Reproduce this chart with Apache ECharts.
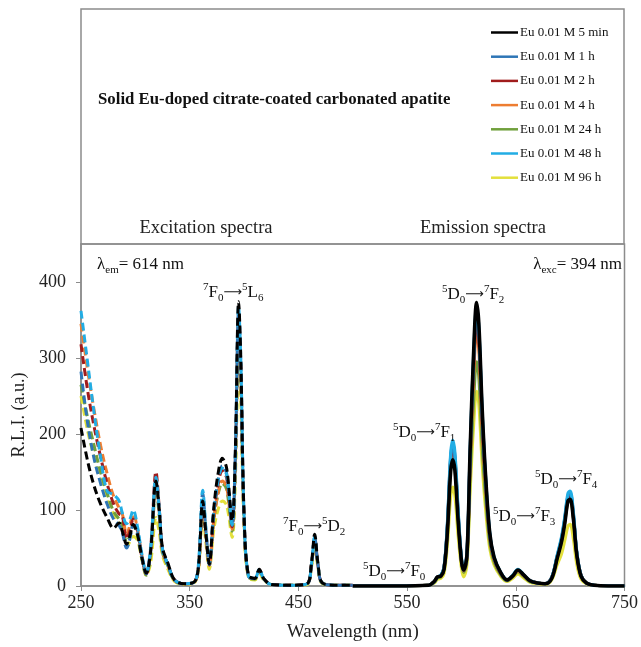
<!DOCTYPE html>
<html>
<head>
<meta charset="utf-8">
<script src="https://cdn.jsdelivr.net/npm/echarts@6/dist/echarts.min.js"></script>
<style>
  html, body { margin: 0; padding: 0; background: #fff; }
  #chart { width: 641px; height: 647px; }
</style>
</head>
<body>
<div id="chart"></div>
<script>
// sample names (legend order)
const sampleNames = ['Eu 0.01 M 5 min', 'Eu 0.01 M 1 h', 'Eu 0.01 M 2 h', 'Eu 0.01 M 4 h',
  'Eu 0.01 M 24 h', 'Eu 0.01 M 48 h', 'Eu 0.01 M 96 h'];

// excitation spectra (lambda em = 614 nm), dashed
const exWl = [250, 256, 262, 268, 274, 280, 285, 288, 292, 295, 298, 302, 306, 310, 314, 319, 322, 325, 330, 336,
  345, 354, 358, 362, 365, 368, 372, 376, 380, 384, 389, 392, 395, 397, 400, 404, 410, 414, 418, 425,
  445, 458, 462, 465, 468, 472, 485, 500];
const ex5min = [208, 165, 132, 108, 90, 76, 83, 72, 55, 66, 81, 68, 38, 17, 45, 138, 100, 50, 30, 8,
  3, 5, 25, 112, 68, 29, 100, 147, 168, 155, 86, 180, 374, 300, 95, 14, 10, 22, 10, 2,
  1, 3, 30, 68, 30, 4, 1, 1];
const ex1h = [282, 215, 168, 135, 108, 88, 80, 70, 50, 62, 80, 70, 38, 16, 45, 140, 100, 48, 28, 8,
  3, 5, 25, 122, 72, 28, 95, 138, 158, 148, 80, 172, 362, 292, 92, 13, 10, 21, 10, 2,
  1, 3, 28, 64, 28, 4, 1, 1];
const ex2h = [318, 258, 210, 170, 135, 108, 95, 92, 62, 72, 88, 72, 38, 16, 48, 150, 102, 48, 28, 8,
  3, 5, 24, 108, 68, 28, 92, 133, 152, 142, 78, 168, 358, 288, 90, 13, 10, 21, 10, 2,
  1, 3, 28, 63, 28, 4, 1, 1];
const ex4h = [345, 285, 232, 185, 148, 118, 103, 95, 68, 80, 95, 75, 40, 16, 45, 138, 98, 46, 27, 8,
  3, 5, 23, 110, 66, 27, 85, 122, 138, 130, 75, 165, 355, 285, 90, 13, 10, 21, 10, 2,
  1, 3, 28, 62, 28, 4, 1, 1];
const ex24h = [265, 222, 185, 150, 122, 98, 88, 80, 58, 66, 80, 66, 36, 14, 40, 128, 92, 44, 26, 7,
  3, 5, 22, 104, 64, 26, 84, 120, 135, 127, 72, 158, 340, 272, 85, 12, 9, 20, 9, 2,
  1, 3, 27, 60, 27, 4, 1, 1];
const ex48h = [362, 295, 228, 170, 125, 120, 112, 96, 82, 88, 100, 78, 42, 18, 50, 143, 100, 48, 28, 8,
  3, 5, 28, 126, 74, 30, 95, 138, 155, 146, 80, 172, 368, 298, 94, 13, 10, 22, 10, 2,
  1, 3, 29, 65, 29, 4, 1, 1];
const ex96h = [250, 205, 170, 140, 115, 95, 82, 75, 52, 58, 65, 60, 35, 14, 30, 90, 70, 40, 22, 6,
  2, 4, 20, 94, 55, 22, 72, 100, 112, 106, 64, 140, 300, 245, 78, 11, 8, 17, 8, 2,
  1, 2, 24, 55, 24, 3, 1, 1];

// emission spectra (lambda exc = 394 nm), solid
const emWl = [500, 540, 570, 575, 578, 581, 584, 587, 590, 592, 594, 597, 600, 602, 605, 608, 611, 614, 616, 619,
  622, 626, 630, 636, 642, 647, 652, 657, 663, 670, 677, 683, 688, 692, 695, 698, 700, 703, 706, 710,
  715, 722, 735, 750];
const em5min = [0, 0, 1, 6, 12, 13, 22, 70, 150, 166, 152, 85, 33, 21, 40, 180, 300, 373, 345, 235,
  150, 70, 38, 18, 8, 13, 21, 15, 7, 4, 3, 10, 36, 58, 82, 112, 114, 88, 42, 13, 4, 1, 0, 0];
const em1h = [0, 0, 1, 6, 12, 14, 24, 78, 168, 186, 170, 95, 35, 21, 41, 176, 292, 360, 335, 228,
  146, 69, 37, 18, 8, 13, 21, 15, 7, 4, 3, 11, 39, 62, 88, 119, 122, 94, 45, 14, 4, 1, 0, 0];
const em2h = [0, 0, 1, 6, 12, 13, 24, 76, 164, 182, 166, 93, 34, 21, 40, 170, 282, 348, 325, 220,
  142, 67, 36, 17, 8, 13, 21, 15, 7, 4, 3, 11, 38, 61, 87, 117, 120, 92, 44, 14, 4, 1, 0, 0];
const em4h = [0, 0, 1, 6, 12, 13, 24, 75, 162, 180, 164, 92, 34, 20, 38, 165, 272, 335, 313, 212,
  137, 65, 35, 17, 8, 13, 20, 14, 7, 4, 3, 11, 38, 60, 86, 115, 118, 91, 44, 13, 4, 1, 0, 0];
const em24h = [0, 0, 1, 5, 11, 12, 22, 72, 155, 172, 157, 88, 32, 18, 34, 145, 240, 295, 276, 188,
  122, 58, 32, 15, 7, 12, 19, 13, 6, 4, 3, 10, 37, 58, 84, 112, 115, 89, 43, 13, 4, 1, 0, 0];
const em48h = [0, 0, 1, 6, 12, 14, 25, 80, 172, 192, 175, 98, 36, 22, 42, 178, 296, 366, 340, 232,
  148, 70, 38, 18, 8, 14, 22, 15, 7, 4, 3, 11, 40, 64, 90, 122, 125, 96, 46, 14, 4, 1, 0, 0];
const em96h = [0, 0, 1, 4, 9, 10, 17, 54, 117, 130, 119, 66, 24, 12, 28, 126, 208, 256, 240, 163,
  105, 50, 28, 13, 6, 10, 16, 11, 5, 3, 2, 8, 28, 42, 60, 79, 81, 62, 30, 9, 3, 1, 0, 0];

const xTicks = [250, 350, 450, 550, 650, 750];
const yTicks = [0, 100, 200, 300, 400];

const colors = ['#000000', '#2e75b6', '#a01c1c', '#ed7d31', '#70a03c', '#22ade4', '#e3e03c'];
const exAll = [ex5min, ex1h, ex2h, ex4h, ex24h, ex48h, ex96h];
const emAll = [em5min, em1h, em2h, em4h, em24h, em48h, em96h];
// draw order: yellow first, black last (on top)
const drawOrder = [6, 4, 3, 2, 1, 5, 0];

const serif = 'Liberation Serif, Times New Roman, serif';

const series = [];
// emission first so that the legend picks up the solid line colour
drawOrder.forEach(function (k) {
  series.push({
    name: sampleNames[k], type: 'line', smooth: 0.35, symbol: 'none',
    data: emWl.map(function (w, i) { return [w, emAll[k][i]]; }),
    lineStyle: { color: colors[k], width: k === 0 ? 3.6 : 3.2 },
    itemStyle: { color: colors[k] }
  });
});
drawOrder.forEach(function (k) {
  series.push({
    name: sampleNames[k], type: 'line', smooth: 0.35, symbol: 'none',
    data: exWl.map(function (w, i) { return [w, exAll[k][i]]; }),
    lineStyle: { color: colors[k], width: 3, type: [8, 4] },
    itemStyle: { color: colors[k] }
  });
});

const rich = {
  m: { fontFamily: serif, fontSize: 17, lineHeight: 22, color: '#111' },
  ar: { fontFamily: 'DejaVu Sans', fontSize: 13, lineHeight: 22, color: '#111' },
  sup: { fontFamily: serif, fontSize: 11, lineHeight: 11, verticalAlign: 'top', color: '#111' },
  sub: { fontFamily: serif, fontSize: 11, lineHeight: 9, verticalAlign: 'bottom', color: '#111' }
};

function label(x, y, txt, align) {
  return {
    type: 'text', x: x, y: y, z: 100,
    style: { text: txt, rich: rich, align: align || 'left', verticalAlign: 'middle', fill: '#111' }
  };
}

const chart = echarts.init(document.getElementById('chart'));
chart.setOption({
  animation: false,
  backgroundColor: '#fff',
  grid: { left: 81, right: 15, top: 244, bottom: 58, show: true, borderColor: '#8c8c8c', borderWidth: 1.5 },
  legend: {
    orient: 'vertical', left: 491, top: 26, padding: 0, itemWidth: 27, itemHeight: 2.5, itemGap: 11.2,
    icon: 'rect', selectedMode: false, data: sampleNames,
    textStyle: { fontFamily: serif, fontSize: 13, lineHeight: 13, color: '#111', padding: [0, 0, 0, -3] }
  },
  xAxis: {
    type: 'value', min: 250, max: 750, interval: 100,
    name: 'Wavelength (nm)', nameLocation: 'middle', nameGap: 37,
    nameTextStyle: { fontFamily: serif, fontSize: 19, color: '#222' },
    axisLine: { show: true, lineStyle: { color: '#8c8c8c', width: 1.5 } },
    axisTick: { show: true, length: 5, customValues: xTicks, lineStyle: { color: '#8c8c8c' } },
    axisLabel: { customValues: xTicks, fontFamily: serif, fontSize: 18, color: '#222', margin: 8 },
    splitLine: { show: false }
  },
  yAxis: {
    type: 'value', min: 0, max: 450, interval: 100,
    name: 'R.L.I. (a.u.)', nameLocation: 'middle', nameGap: 50,
    nameTextStyle: { fontFamily: serif, fontSize: 18, color: '#222' },
    axisLine: { show: true, lineStyle: { color: '#8c8c8c', width: 1.5 } },
    axisTick: { show: true, length: 5, customValues: yTicks, lineStyle: { color: '#8c8c8c' } },
    axisLabel: { customValues: yTicks, fontFamily: serif, fontSize: 18, color: '#222', margin: 15 },
    splitLine: { show: false }
  },
  graphic: [
    // upper box with title and legend
    { type: 'rect', shape: { x: 81, y: 9, width: 543, height: 235 }, style: { fill: 'none', stroke: '#8c8c8c', lineWidth: 1.5 } },
    { type: 'text', x: 98, y: 100, style: { text: 'Solid Eu-doped citrate-coated carbonated apatite', fontFamily: serif, fontSize: 16.8, fontWeight: 'bold', fill: '#111', verticalAlign: 'middle' } },
    { type: 'text', x: 206, y: 228, style: { text: 'Excitation spectra', fontFamily: serif, fontSize: 18.5, fill: '#222', align: 'center', verticalAlign: 'middle' } },
    { type: 'text', x: 483, y: 228, style: { text: 'Emission spectra', fontFamily: serif, fontSize: 18.5, fill: '#222', align: 'center', verticalAlign: 'middle' } },
    label(97, 265, '{m|λ}{sub|em}{m|= 614 nm}'),
    label(622, 265, '{m|λ}{sub|exc}{m|= 394 nm}', 'right'),
    label(203, 293, '{sup|7}{m|F}{sub|0}{ar|⟶}{sup|5}{m|L}{sub|6}'),
    label(283, 527, '{sup|7}{m|F}{sub|0}{ar|⟶}{sup|5}{m|D}{sub|2}'),
    label(442, 295, '{sup|5}{m|D}{sub|0}{ar|⟶}{sup|7}{m|F}{sub|2}'),
    label(393, 433, '{sup|5}{m|D}{sub|0}{ar|⟶}{sup|7}{m|F}{sub|1}'),
    label(535, 480, '{sup|5}{m|D}{sub|0}{ar|⟶}{sup|7}{m|F}{sub|4}'),
    label(493, 517, '{sup|5}{m|D}{sub|0}{ar|⟶}{sup|7}{m|F}{sub|3}'),
    label(363, 572, '{sup|5}{m|D}{sub|0}{ar|⟶}{sup|7}{m|F}{sub|0}')
  ],
  series: series
});
</script>
</body>
</html>
